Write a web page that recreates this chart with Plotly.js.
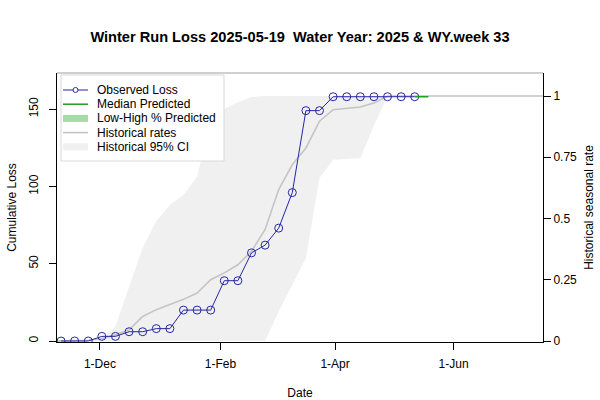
<!DOCTYPE html>
<html>
<head>
<meta charset="utf-8">
<script src="https://cdn.plot.ly/plotly-3.0.1.min.js"></script>
<style>body{margin:0}#chart{width:600px;height:400px}</style>
</head>
<body>
<div id="chart"></div>
<script>
// weekly observed cumulative loss
var obsDates = ['2024-11-11','2024-11-18','2024-11-25','2024-12-02','2024-12-09','2024-12-16','2024-12-23','2024-12-30',
  '2025-01-06','2025-01-13','2025-01-20','2025-01-27','2025-02-03','2025-02-10','2025-02-17','2025-02-24',
  '2025-03-03','2025-03-10','2025-03-17','2025-03-24','2025-03-31','2025-04-07','2025-04-14','2025-04-21',
  '2025-04-28','2025-05-05','2025-05-12'];
var obsLoss = [0,0,0,3,3,6,6,8,8,20,20,20,39,39,57,62,73,96,149,149,158,158,158,158,158,158,158];

// historical seasonal rate and its 95% CI (fraction of season)
var histDates = ['2024-11-04','2024-11-11','2024-11-18','2024-11-25','2024-12-02','2024-12-09','2024-12-16','2024-12-23','2024-12-30',
  '2025-01-06','2025-01-13','2025-01-20','2025-01-27','2025-02-03','2025-02-10','2025-02-17','2025-02-24',
  '2025-03-03','2025-03-10','2025-03-17','2025-03-24','2025-03-31','2025-04-07','2025-04-14','2025-04-21',
  '2025-04-28','2025-05-05','2025-05-12','2025-05-19','2025-05-26','2025-06-02','2025-06-09','2025-06-16',
  '2025-06-23','2025-06-30','2025-07-07','2025-07-14','2025-07-21'];
var histRate = [0,0,0,0.003,0.01,0.025,0.046,0.10,0.128,0.148,0.17,0.196,0.25,0.278,0.311,0.366,0.455,
  0.618,0.72,0.788,0.897,0.944,0.951,0.955,0.971,1,1,1,1,1,1,1,1,1,1,1,1,1];
var histUpper = [0,0,0,0,0.005,0.06,0.22,0.38,0.49,0.555,0.596,0.67,0.90,0.947,0.975,0.996,1,
  1,1,1,1,1,1,1,1,1,1,1,1,1,1,1,1,1,1,1,1,1];
var histLower = [0,0,0,0,0,0,0,0,0,0,0,0,0,0,0,0,0,
  0.12,0.23,0.339,0.665,0.74,0.743,0.747,0.88,1,1,1,1,1,1,1,1,1,1,1,1,1];

// prediction for the rest of the season
var predDates = ['2025-05-12','2025-05-19'];
var predMedian = [158,158];
var predLow = [158,158];
var predHigh = [158,158];

var tickDates = ['2024-12-01','2025-02-01','2025-04-01','2025-06-01'];
var tickLabels = ['1-Dec','1-Feb','1-Apr','1-Jun'];
var lossTicks = [0,50,100,150];
var rateTicks = [0,0.25,0.5,0.75,1];
var rateLabels = ['0','0.25','0.5','0.75','1'];

var legendNames = ['Observed Loss','Median Predicted','Low-High % Predicted','Historical rates','Historical 95% CI'];

var cBlue = '#2626a6', cGreen = '#1e9e1e', cLightGreen = '#a6dba6', cHist = '#c4c4c4', cCI = '#f0f0f0';

var data = [
  {x: histDates, y: histUpper, yaxis: 'y', mode: 'lines', line: {width: 0}, hoverinfo: 'skip'},
  {x: histDates, y: histLower, yaxis: 'y', mode: 'lines', line: {width: 0}, fill: 'tonexty', fillcolor: cCI, hoverinfo: 'skip'},
  {x: histDates, y: histRate, yaxis: 'y', mode: 'lines', line: {color: cHist, width: 1.6}},
  {x: predDates, y: predLow, yaxis: 'y2', mode: 'lines', line: {width: 0}},
  {x: predDates, y: predHigh, yaxis: 'y2', mode: 'lines', line: {width: 0}, fill: 'tonexty', fillcolor: cLightGreen},
  {x: obsDates, y: obsLoss, yaxis: 'y2', mode: 'lines+markers', line: {color: cBlue, width: 1},
    marker: {symbol: 'circle-open', size: 8, color: cBlue, line: {width: 1}}},
  {x: predDates, y: predMedian, yaxis: 'y2', mode: 'lines', line: {color: cGreen, width: 1.5}}
];

// plot area in pixels: x 57..543, y 73..342
function px(x) { return (x - 57) / 486; }
function py(y) { return (342 - y) / 269; }

var shapes = [
  {type: 'line', xref: 'paper', yref: 'paper', x0: 0, x1: 1, y0: 1, y1: 1, line: {color: '#a0a0a0', width: 1}},
  {type: 'rect', xref: 'paper', yref: 'paper', x0: px(61), x1: px(224), y0: py(75), y1: py(161),
    fillcolor: 'white', line: {color: '#d8d8d8', width: 1}, layer: 'above'}
];
var annotations = [];
var symColors = [cBlue, cGreen, cLightGreen, cHist, cCI];
var symWidths = [1, 1.5, 7, 1.6, 7];
legendNames.forEach(function (name, i) {
  var rowY = 90 + i * 14.2;
  shapes.push({type: 'line', xref: 'paper', yref: 'paper', x0: px(63), x1: px(88), y0: py(rowY), y1: py(rowY),
    line: {color: symColors[i], width: symWidths[i]}, layer: 'above'});
  annotations.push({xref: 'paper', yref: 'paper', x: px(95), y: py(rowY), xanchor: 'left', yanchor: 'middle',
    text: name, showarrow: false, font: {size: 12, color: 'black'}});
});
shapes.push({type: 'circle', xref: 'paper', yref: 'paper', x0: px(73), x1: px(78), y0: py(87.5), y1: py(92.5),
  line: {color: cBlue, width: 1}, fillcolor: 'white', layer: 'above'});

var axisCommon = {ticks: 'outside', ticklen: 7, tickcolor: 'black', showline: true, linecolor: 'black',
  linewidth: 1, showgrid: false, zeroline: false, fixedrange: true};

var layout = {
  width: 600, height: 400,
  margin: {l: 57, r: 57, t: 73, b: 58},
  paper_bgcolor: 'white', plot_bgcolor: 'white',
  font: {family: 'Liberation Sans, Arial, sans-serif', size: 12, color: 'black'},
  showlegend: false,
  hovermode: false,
  title: {text: 'Winter Run Loss 2025-05-19\u00a0 Water Year: 2025 & WY.week 33',
    font: {size: 14.6, weight: 'bold'}, x: 0.5, xref: 'paper', xanchor: 'center',
    y: 1 - 37 / 400, yref: 'container', yanchor: 'middle'},
  xaxis: Object.assign({}, axisCommon, {type: 'date', range: ['2024-11-08 22:00', '2025-07-17'],
    tickmode: 'array', tickvals: tickDates, ticktext: tickLabels, ticklabelstandoff: 4,
    title: {text: 'Date', standoff: 18, font: {size: 12}}}),
  yaxis: Object.assign({}, axisCommon, {side: 'right', range: [-0.0041, 1.0939],
    tickmode: 'array', tickvals: rateTicks, ticktext: rateLabels,
    title: {text: 'Historical seasonal rate', standoff: 8, font: {size: 12}}}),
  yaxis2: Object.assign({}, axisCommon, {overlaying: 'y', side: 'left', anchor: 'x', range: [-0.65, 173.35],
    tickmode: 'array', tickvals: lossTicks, tickangle: -90, ticklabelstandoff: 6,
    title: {text: 'Cumulative Loss', standoff: 8, font: {size: 12}}}),
  shapes: shapes,
  annotations: annotations
};

Plotly.newPlot('chart', data, layout, {staticPlot: true});
</script>
</body>
</html>
